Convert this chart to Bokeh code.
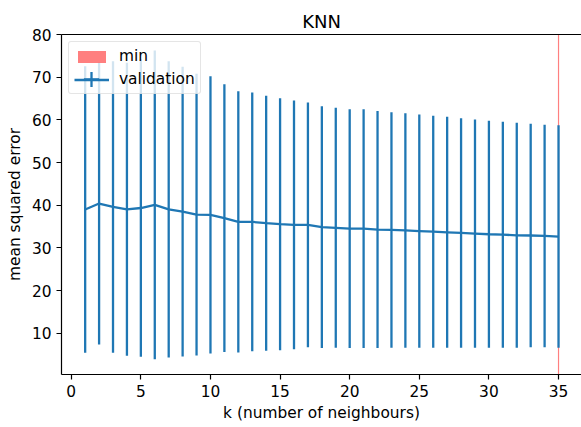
from bokeh.embed import file_html
from bokeh.models import (ColumnDataSource, FixedTicker, Legend, LegendItem,
                          LinearAxis, Range1d)
from bokeh.plotting import figure
from bokeh.resources import INLINE

# number of neighbours tried
k_values = list(range(1, 36))

# validation mean squared error (mean over folds) for each k
mse_mean = [39.0, 40.4, 39.6, 39.05, 39.35, 40.1, 39.05, 38.5, 37.8, 37.75,
            37.0, 36.1, 36.1, 35.8, 35.55, 35.4, 35.4, 34.85, 34.7, 34.5,
            34.5, 34.3, 34.2, 34.1, 33.95, 33.8, 33.65, 33.5, 33.35, 33.2,
            33.1, 32.95, 32.9, 32.8, 32.65]

# spread of the validation error (one standard deviation) for each k
mse_std = [33.6, 33.05, 34.2, 34.35, 34.9, 36.2, 34.75, 34.0, 33.05, 32.5,
           31.4, 30.65, 30.35, 29.9, 29.55, 29.15, 28.7, 28.35, 28.15, 28.0,
           28.0, 27.8, 27.6, 27.5, 27.35, 27.2, 27.1, 26.9, 26.75, 26.6,
           26.5, 26.4, 26.2, 26.1, 26.1]

x_ticks = [0, 5, 10, 15, 20, 25, 30, 35]
y_ticks = [10, 20, 30, 40, 50, 60, 70, 80]

FONT = "DejaVu Sans"
BLUE = "#1f77b4"
TXT = "15.4px"

x_lo, x_hi = -0.7, 36.65
y_lo, y_hi = 0.3, 80.05

src = ColumnDataSource(dict(
    k=k_values,
    mean=mse_mean,
    lower=[m - s for m, s in zip(mse_mean, mse_std)],
    upper=[m + s for m, s in zip(mse_mean, mse_std)],
))

# k with the lowest mean validation error
k_min = k_values[min(range(len(mse_mean)), key=lambda i: mse_mean[i])]

p = figure(width=581, height=427, output_backend="svg", toolbar_location=None,
           x_range=Range1d(x_lo, x_hi), y_range=Range1d(y_lo, y_hi),
           min_border_left=61, min_border_right=0, min_border_top=34,
           min_border_bottom=53)
p.outline_line_color = None
p.xgrid.visible = False
p.ygrid.visible = False
p.background_fill_color = "white"
p.border_fill_color = "white"

# vertical marker at the best k
r_min = p.vbar(x=[k_min], width=0.085, bottom=y_lo, top=y_hi,
               fill_color="red", fill_alpha=0.5, line_color=None)

# error bars and mean curve
p.segment(x0="k", y0="lower", x1="k", y1="upper", source=src,
          line_color=BLUE, line_width=2.3)
r_line = p.line(x="k", y="mean", source=src, line_color=BLUE, line_width=2.3)
# zero-sized crosses: nothing in the plot, an errorbar symbol in the legend
r_cross = p.scatter(x="k", y="mean", source=src, marker="cross", size=0,
                    line_color=BLUE, line_width=2.3)

# axes
for ax in (p.xaxis[0], p.yaxis[0]):
    ax.axis_line_width = 1.2
    ax.axis_line_color = "black"
    ax.major_tick_line_width = 1.2
    ax.major_tick_line_color = "black"
    ax.major_tick_out = 5
    ax.major_tick_in = 0
    ax.minor_tick_line_color = None
    ax.major_label_text_font = FONT
    ax.major_label_text_font_size = TXT
    ax.major_label_text_color = "black"
    ax.major_label_standoff = 5
    ax.axis_label_text_font = FONT
    ax.axis_label_text_font_size = TXT
    ax.axis_label_text_font_style = "normal"
    ax.axis_label_text_color = "black"

p.xaxis[0].ticker = FixedTicker(ticks=x_ticks)
p.yaxis[0].ticker = FixedTicker(ticks=y_ticks)
p.xaxis[0].axis_label = "k (number of neighbours)"
p.yaxis[0].axis_label = "mean squared error"
p.xaxis[0].axis_label_standoff = 4
p.yaxis[0].axis_label_standoff = 5

# top spine
top_axis = LinearAxis(ticker=FixedTicker(ticks=[]), axis_line_width=1.2,
                      axis_line_color="black", major_tick_line_color=None,
                      minor_tick_line_color=None, major_label_text_font_size="0px",
                      major_tick_out=0, major_tick_in=0, major_label_standoff=0)
p.add_layout(top_axis, "above")

p.title.text = "KNN"
p.title.text_font = FONT
p.title.text_font_size = "18px"
p.title.text_font_style = "normal"
p.title.text_color = "black"
p.title.align = "center"
p.title.standoff = 6

legend = Legend(items=[LegendItem(label="min", renderers=[r_min]),
                       LegendItem(label="validation", renderers=[r_line])],
                location="top_left", margin=7, padding=5, spacing=5,
                glyph_width=35, glyph_height=15, label_height=18,
                label_standoff=10, label_text_font=FONT,
                label_text_font_size=TXT, label_text_color="black",
                border_line_color="#cccccc", border_line_width=1,
                background_fill_color="white", background_fill_alpha=0.8)
if "border_radius" in Legend.properties():
    legend.border_radius = 3
p.add_layout(legend)

# vertical stroke of the errorbar symbol, laid over the "validation" entry
tick_legend = Legend(items=[LegendItem(label=" ", renderers=[r_cross])],
                     location=(11, 276.5), margin=0, padding=0, spacing=0,
                     glyph_width=38, glyph_height=38, label_height=0,
                     label_width=0, label_standoff=0,
                     label_text_font_size="1px", label_text_alpha=0,
                     border_line_color=None, background_fill_color=None,
                     background_fill_alpha=0)
p.add_layout(tick_legend)

open("out.html", "w").write(file_html(p, INLINE))
